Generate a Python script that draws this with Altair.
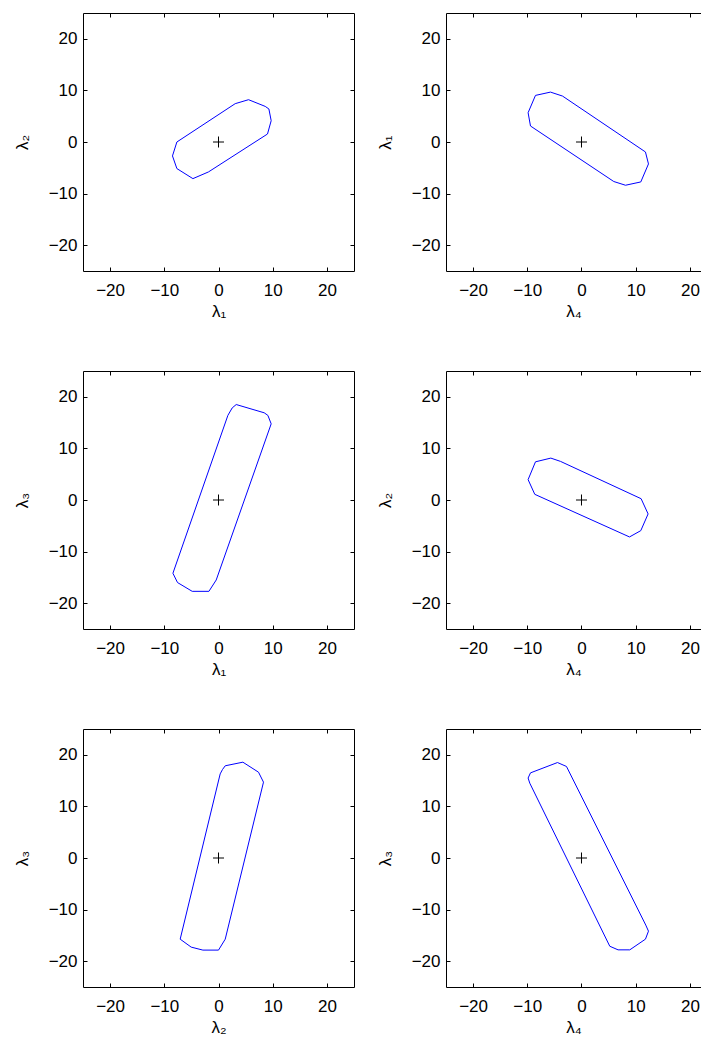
import altair as alt
import pandas as pd

TICKS = [-20, -10, 0, 10, 20]
DOMAIN = [-25, 25]
DOMAIN_RIGHT_COL = [-25, 22.05]   # right column is cut off by the page edge
CENTER_X = [0]
CENTER_Y = [0]

# panel 1: lambda1 vs lambda2
P1_X = [-7.68, 3.08, 5.54, 8.62, 9.30, 9.72, 9.04, -1.85, -4.72, -7.68, -8.49]
P1_Y = [0.00, 7.43, 8.20, 6.90, 6.40, 4.13, 1.55, -5.80, -7.10, -5.15, -2.70]
# panel 2: lambda4 vs lambda1
P2_X = [-8.49, -5.72, -3.50, 11.80, 12.36, 10.94, 8.12, 5.96, -9.41, -9.85]
P2_Y = [9.03, 9.67, 8.90, -1.93, -4.25, -7.74, -8.38, -7.66, 3.10, 5.68]
# panel 3: lambda1 vs lambda3
P3_X = [3.27, 8.43, 9.11, 9.72, -0.42, -1.77, -4.85, -7.56, -8.41, 1.73, 2.53]
P3_Y = [18.50, 16.90, 16.40, 14.76, -15.50, -17.70, -17.70, -16.00, -14.20, 16.40, 17.85]
# panel 4: lambda4 vs lambda2
P4_X = [-8.49, -5.66, -3.87, 11.00, 12.29, 10.94, 8.86, -8.62, -9.85]
P4_Y = [7.40, 8.12, 7.48, 0.25, -2.70, -5.94, -7.16, 1.10, 3.95]
# panel 5: lambda2 vs lambda3
P5_X = [1.24, 4.50, 7.38, 8.30, 1.24, 0.00, -2.88, -5.04, -7.07, 0.31, 0.74]
P5_Y = [17.87, 18.57, 16.63, 14.70, -15.73, -17.85, -17.85, -17.27, -15.73, 16.30, 17.15]
# panel 6: lambda4 vs lambda3
P6_X = [-9.41, -4.43, -2.77, 11.86, 12.36, 11.80, 8.91, 6.75, 5.22, -9.54, -9.85]
P6_Y = [16.50, 18.50, 17.74, -13.00, -14.18, -15.73, -17.80, -17.80, -17.10, 14.50, 15.50]

X_TITLES = ["λ₁", "λ₄", "λ₁", "λ₄", "λ₂", "λ₄"]
Y_TITLES = ["λ₂", "λ₁", "λ₃", "λ₂", "λ₃", "λ₃"]
POLY_X = [P1_X, P2_X, P3_X, P4_X, P5_X, P6_X]
POLY_Y = [P1_Y, P2_Y, P3_Y, P4_Y, P5_Y, P6_Y]

FONT = "Liberation Sans, Arial, Helvetica, sans-serif"


def tick_axis(orient):
    return alt.Axis(orient=orient, values=TICKS, title=None, labels=False,
                    grid=False, domain=False, ticks=True, offset=-4,
                    tickSize=4, tickColor="black", tickWidth=1)


def line_axis(orient):
    return alt.Axis(orient=orient, values=TICKS, title=None, labels=False,
                    grid=False, domain=True, ticks=False,
                    domainColor="black", domainWidth=1)


def panel(xt, yt, xs, ys, xdom, width, right_border):
    df = pd.DataFrame({"x": xs + xs[:1], "y": ys + ys[:1],
                       "i": list(range(len(xs) + 1))})
    center = pd.DataFrame({"x": CENTER_X, "y": CENTER_Y})
    sx = alt.Scale(domain=xdom, nice=False, zero=False)
    sy = alt.Scale(domain=DOMAIN, nice=False, zero=False)

    line = alt.Chart(df).mark_line(color="#0000ff", strokeWidth=1).encode(
        x=alt.X("x:Q", scale=sx,
                axis=alt.Axis(title=xt, orient="bottom", values=TICKS,
                              grid=False, domain=True, domainColor="black",
                              ticks=False, tickSize=0, labelPadding=11,
                              labelFlush=False, titlePadding=5, format="d")),
        y=alt.Y("y:Q", scale=sy,
                axis=alt.Axis(title=yt, orient="left", values=TICKS,
                              grid=False, domain=True, domainColor="black",
                              ticks=False, tickSize=0, labelPadding=6,
                              labelFlush=False, titlePadding=17, format="d")),
        order=alt.Order("i:Q"),
    )

    def plus(xax, yax, visible):
        return alt.Chart(center).mark_point(
            shape="M-1,0H1M0,-1V1", size=121, filled=False, color="black",
            strokeWidth=1, opacity=1 if visible else 0).encode(
            x=alt.X("x:Q", scale=sx, axis=xax),
            y=alt.Y("y:Q", scale=sy, axis=yax),
        )

    l2 = plus(tick_axis("bottom"), tick_axis("left"), True)
    l3 = plus(line_axis("top"), line_axis("right") if right_border else None, False)
    l4 = plus(tick_axis("top"), tick_axis("right") if right_border else None, False)
    return alt.layer(line, l2, l3, l4).resolve_axis(
        x="independent", y="independent").properties(width=width, height=258)


panels = []
for k in range(6):
    left_col = (k % 2 == 0)
    panels.append(panel(X_TITLES[k], Y_TITLES[k], POLY_X[k], POLY_Y[k],
                        DOMAIN if left_col else DOMAIN_RIGHT_COL,
                        271 if left_col else 255,
                        left_col))

chart = alt.concat(*panels, columns=2, spacing={"row": 100, "column": 92},
                   bounds="flush").properties(
    padding={"left": 5, "top": 4, "right": 0, "bottom": 0},
    background="white",
).configure_view(strokeWidth=0, stroke="white").configure_axis(
    labelFont=FONT, labelFontSize=17, labelColor="black",
    titleFont=FONT, titleFontSize=17, titleFontWeight="normal",
    titleColor="black",
)

chart.save("out.html", embed_options={"renderer": "svg", "actions": False})
